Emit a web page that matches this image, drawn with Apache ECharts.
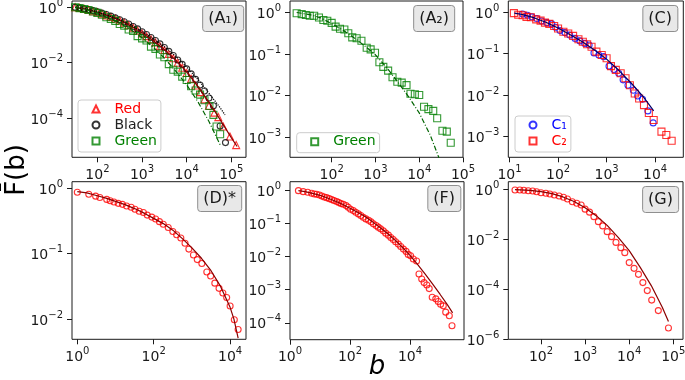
<!DOCTYPE html>
<html>
<head>
<meta charset="utf-8">
<script src="https://cdn.jsdelivr.net/npm/echarts@6/dist/echarts.min.js"></script>
<style>
  html, body { margin: 0; padding: 0; background: #fff; }
  #main { width: 685px; height: 380px; }
</style>
</head>
<body>
<div id="main"></div>
<script>
// values, stored as [log10 b, log10 F(b)]
const a1Red = [[1.5,0],[1.6,-0.02],[1.7,-0.05],[1.8,-0.09],[1.9,-0.14],[2.0,-0.18],[2.1,-0.23],[2.2,-0.29],[2.3,-0.35],[2.4,-0.41],[2.5,-0.48],[2.6,-0.56],[2.7,-0.65],[2.8,-0.74],[2.9,-0.84],[3.0,-0.94],[3.1,-1.04],[3.2,-1.15],[3.3,-1.27],[3.4,-1.4],[3.5,-1.54],[3.6,-1.68],[3.7,-1.84],[3.8,-2.0],[3.9,-2.18],[4.0,-2.37],[4.1,-2.58],[4.2,-2.82],[4.3,-3.06],[4.4,-3.32],[4.5,-3.55],[4.62,-3.8],[4.71,-3.96],[4.82,-4.3],[4.97,-4.66],[5.11,-4.97]];
const a1Black = [[1.5,0],[1.6,-0.02],[1.7,-0.05],[1.8,-0.08],[1.9,-0.12],[2.0,-0.16],[2.1,-0.21],[2.2,-0.26],[2.3,-0.32],[2.4,-0.38],[2.5,-0.45],[2.6,-0.52],[2.7,-0.6],[2.8,-0.69],[2.9,-0.78],[3.0,-0.88],[3.1,-0.98],[3.2,-1.09],[3.3,-1.2],[3.4,-1.32],[3.5,-1.45],[3.6,-1.59],[3.7,-1.74],[3.8,-1.9],[3.9,-2.06],[4.0,-2.22],[4.1,-2.4],[4.2,-2.6],[4.3,-2.8],[4.4,-3.02],[4.5,-3.27],[4.6,-3.55],[4.75,-4.28],[4.87,-4.88]];
const a1Green = [[1.5,0],[1.6,-0.03],[1.7,-0.06],[1.8,-0.1],[1.9,-0.15],[2.0,-0.2],[2.1,-0.27],[2.2,-0.36],[2.3,-0.42],[2.4,-0.49],[2.5,-0.6],[2.6,-0.66],[2.7,-0.8],[2.8,-0.85],[2.9,-1.04],[3.0,-1.12],[3.1,-1.2],[3.2,-1.42],[3.3,-1.5],[3.4,-1.7],[3.5,-1.8],[3.6,-2.05],[3.7,-2.25],[3.8,-2.32],[3.9,-2.5],[4.0,-2.62],[4.1,-2.85],[4.2,-3.0],[4.3,-3.15],[4.4,-3.35],[4.51,-3.56],[4.6,-3.88],[4.67,-4.3],[4.75,-4.58]];
const a1RedFit = [[1.5,0],[1.75,-0.07],[2.0,-0.18],[2.25,-0.31],[2.5,-0.47],[2.75,-0.68],[3.0,-0.92],[3.25,-1.2],[3.5,-1.52],[3.75,-1.9],[4.0,-2.33],[4.25,-2.85],[4.5,-3.42],[4.75,-4.05],[5.0,-4.7],[5.13,-5.02]];
const a1BlackFit = [[1.5,0],[1.75,-0.06],[2.0,-0.17],[2.25,-0.3],[2.5,-0.45],[2.75,-0.64],[3.0,-0.87],[3.25,-1.13],[3.5,-1.42],[3.75,-1.76],[4.0,-2.15],[4.25,-2.6],[4.5,-3.1],[4.75,-3.62],[4.86,-3.88]];
const a1GreenFit = [[1.5,0],[1.75,-0.08],[2.0,-0.21],[2.25,-0.38],[2.5,-0.57],[2.75,-0.81],[3.0,-1.1],[3.25,-1.44],[3.5,-1.83],[3.75,-2.29],[4.0,-2.8],[4.25,-3.4],[4.5,-4.12],[4.75,-4.96]];

const a2Green = [[1.2,-0.02],[1.315,-0.04],[1.41,-0.06],[1.5,-0.08],[1.6,-0.08],[1.71,-0.12],[1.81,-0.18],[1.9,-0.2],[2.0,-0.25],[2.09,-0.34],[2.19,-0.39],[2.29,-0.41],[2.38,-0.5],[2.47,-0.6],[2.57,-0.62],[2.68,-0.68],[2.8,-0.85],[2.89,-0.89],[2.99,-0.97],[3.09,-1.2],[3.18,-1.31],[3.29,-1.4],[3.39,-1.56],[3.5,-1.67],[3.6,-1.69],[3.71,-1.75],[3.8,-1.96],[3.9,-1.97],[4.0,-1.99],[4.11,-2.27],[4.21,-2.33],[4.32,-2.37],[4.41,-2.55],[4.53,-2.85],[4.63,-2.87],[4.72,-3.14]];
const a2GreenFit = [[1.2,0],[1.5,-0.05],[1.75,-0.13],[2.0,-0.27],[2.25,-0.42],[2.5,-0.6],[2.75,-0.8],[3.0,-1.02],[3.25,-1.32],[3.5,-1.66],[3.75,-2.02],[4.0,-2.42],[4.25,-2.95],[4.45,-3.5]];

const cOne = [[1.27,-0.04],[1.37,-0.07],[1.46,-0.11],[1.56,-0.15],[1.66,-0.21],[1.77,-0.25],[1.87,-0.28],[1.95,-0.36],[2.04,-0.44],[2.14,-0.49],[2.24,-0.55],[2.35,-0.63],[2.45,-0.69],[2.55,-0.75],[2.64,-0.79],[2.74,-0.98],[2.84,-1.03],[2.94,-1.07],[3.05,-1.3],[3.15,-1.38],[3.25,-1.47],[3.34,-1.63],[3.44,-1.76],[3.55,-1.88],[3.64,-2.02],[3.74,-2.1],[3.85,-2.38],[3.96,-2.67]];
const cTwo = [[1.09,-0.02],[1.18,-0.06],[1.27,-0.07],[1.35,-0.11],[1.44,-0.12],[1.55,-0.17],[1.64,-0.2],[1.73,-0.25],[1.82,-0.28],[1.92,-0.33],[2.0,-0.39],[2.11,-0.47],[2.21,-0.51],[2.31,-0.57],[2.42,-0.65],[2.51,-0.71],[2.6,-0.77],[2.69,-0.83],[2.79,-0.95],[2.9,-1.03],[3.0,-1.11],[3.09,-1.3],[3.19,-1.39],[3.29,-1.47],[3.39,-1.59],[3.48,-1.76],[3.58,-1.96],[3.67,-2.08],[3.77,-2.24],[3.87,-2.43],[3.97,-2.6],[4.13,-2.88],[4.23,-2.96],[4.34,-3.1]];
const cFit = [[1.1,-0.02],[1.25,-0.05],[1.5,-0.13],[1.75,-0.24],[2.0,-0.38],[2.25,-0.54],[2.5,-0.71],[2.75,-0.91],[3.0,-1.13],[3.25,-1.4],[3.5,-1.7],[3.75,-2.03],[3.97,-2.38]];

const dRed = [[0,-0.06],[0.3,-0.09],[0.48,-0.12],[0.59,-0.14],[0.77,-0.17],[0.86,-0.19],[0.96,-0.21],[1.07,-0.23],[1.18,-0.245],[1.29,-0.27],[1.41,-0.29],[1.51,-0.32],[1.62,-0.35],[1.73,-0.37],[1.83,-0.41],[1.95,-0.44],[2.05,-0.47],[2.15,-0.51],[2.25,-0.55],[2.38,-0.6],[2.5,-0.66],[2.6,-0.71],[2.71,-0.76],[2.82,-0.84],[2.92,-0.93],[3.04,-1.02],[3.14,-1.09],[3.26,-1.15],[3.39,-1.28],[3.49,-1.34],[3.6,-1.45],[3.71,-1.53],[3.81,-1.6],[3.91,-1.67],[4.0,-1.8],[4.11,-2.01],[4.21,-2.16]];
const dFit = [[0,-0.05],[0.25,-0.07],[0.5,-0.11],[0.75,-0.15],[1,-0.2],[1.25,-0.25],[1.5,-0.31],[1.75,-0.38],[2,-0.46],[2.25,-0.54],[2.5,-0.64],[2.75,-0.77],[3,-0.91],[3.25,-1.07],[3.5,-1.26],[3.75,-1.5],[4.0,-1.82],[4.1,-2.0],[4.21,-2.29]];

const fRed = [[0.28,-0.02],[0.44,-0.05],[0.59,-0.07],[0.72,-0.1],[0.81,-0.12],[0.89,-0.13],[0.98,-0.15],[1.06,-0.18],[1.14,-0.21],[1.22,-0.23],[1.31,-0.26],[1.39,-0.29],[1.47,-0.32],[1.56,-0.35],[1.63,-0.38],[1.7,-0.41],[1.78,-0.43],[1.87,-0.47],[1.94,-0.52],[2.02,-0.58],[2.11,-0.62],[2.19,-0.67],[2.28,-0.72],[2.36,-0.77],[2.44,-0.82],[2.53,-0.87],[2.62,-0.91],[2.7,-0.96],[2.78,-1.02],[2.87,-1.07],[2.94,-1.12],[3.02,-1.17],[3.11,-1.23],[3.19,-1.3],[3.28,-1.36],[3.36,-1.43],[3.44,-1.49],[3.52,-1.56],[3.61,-1.63],[3.69,-1.7],[3.78,-1.78],[3.87,-1.85],[3.94,-1.94],[4.02,-1.98],[4.11,-2.08],[4.22,-2.14],[4.3,-2.53],[4.39,-2.68],[4.47,-2.79],[4.56,-2.86],[4.64,-2.97],[4.74,-3.23],[4.86,-3.28],[4.94,-3.36],[5.02,-3.44],[5.11,-3.49],[5.19,-3.68],[5.31,-3.79],[5.4,-4.09]];
const fFit = [[0.28,-0.02],[0.5,-0.05],[0.75,-0.1],[1,-0.16],[1.25,-0.24],[1.5,-0.33],[1.75,-0.43],[2,-0.55],[2.25,-0.67],[2.5,-0.8],[2.75,-0.96],[3,-1.13],[3.25,-1.31],[3.5,-1.51],[3.75,-1.73],[4,-1.97],[4.25,-2.24],[4.5,-2.53],[4.75,-2.83],[5,-3.14],[5.25,-3.46],[5.42,-3.7]];

const gRed = [[1.41,-0.02],[1.52,-0.02],[1.61,-0.03],[1.71,-0.05],[1.81,-0.06],[1.9,-0.09],[2.0,-0.13],[2.11,-0.15],[2.2,-0.18],[2.3,-0.22],[2.41,-0.26],[2.51,-0.31],[2.6,-0.38],[2.71,-0.49],[2.81,-0.55],[2.91,-0.62],[3.0,-0.79],[3.1,-0.91],[3.2,-1.09],[3.3,-1.29],[3.4,-1.46],[3.5,-1.69],[3.6,-1.89],[3.7,-2.12],[3.81,-2.33],[3.9,-2.53],[4.0,-2.93],[4.11,-3.16],[4.21,-3.4],[4.31,-3.73],[4.41,-4.05],[4.51,-4.43],[4.66,-4.85],[4.89,-5.55]];
const gFit = [[1.41,-0.01],[1.75,-0.04],[2,-0.09],[2.25,-0.17],[2.5,-0.3],[2.75,-0.48],[3,-0.73],[3.25,-1.05],[3.5,-1.44],[3.75,-1.92],[4,-2.45],[4.25,-3.12],[4.5,-3.85],[4.75,-4.72],[4.89,-5.29]];

// tick values per panel
const a1XTicks = [1e2, 1e3, 1e4, 1e5];
const a1YTicks = [1, 1e-2, 1e-4];
const a2XTicks = [1e2, 1e3, 1e4, 1e5];
const a2YTicks = [1, 1e-1, 1e-2, 1e-3];
const cXTicks = [1e1, 1e2, 1e3, 1e4];
const cYTicks = [1, 1e-1, 1e-2, 1e-3];
const dXTicks = [1, 1e2, 1e4];
const dYTicks = [1, 1e-1, 1e-2];
const fXTicks = [1, 1e2, 1e4];
const fYTicks = [1, 1e-1, 1e-2, 1e-3, 1e-4];
const gXTicks = [1e2, 1e3, 1e4, 1e5];
const gYTicks = [1, 1e-2, 1e-4, 1e-6];

const FONT = 'DejaVu Sans';
const INK = '#1a1a1a';

// grid rectangles [left, top, width, height] and visible log10 ranges
const panels = [
  {rect: [72, 1, 174, 156.3], x: [1.43, 5.33], y: [-5.41, 0.227], xt: a1XTicks, yt: a1YTicks},
  {rect: [290, 1, 173, 156.3], x: [1.048, 5.0], y: [-3.49, 0.277], xt: a2XTicks, yt: a2YTicks},
  {rect: [508.3, 1, 175, 156.3], x: [0.975, 4.58], y: [-3.5, 0.273], xt: cXTicks, yt: cYTicks},
  {rect: [72, 181.7, 174, 157.6], x: [-0.139, 4.416], y: [-2.309, 0.101], xt: dXTicks, yt: dYTicks},
  {rect: [290, 181.7, 174, 158], x: [0, 5.8], y: [-4.51, 0.25], xt: fXTicks, yt: fYTicks},
  {rect: [508.3, 181.7, 174.7, 157.6], x: [1.258, 5.22], y: [-6, 0.31], xt: gXTicks, yt: gYTicks}
];

const toPts = arr => arr.map(p => [Math.pow(10, p[0]), Math.pow(10, p[1])]);

function powLabel(v) {
  const e = Math.log10(v);
  const n = Math.round(e);
  if (Math.abs(e - n) > 1e-6) return '';
  return '{b|10}{s|' + (n < 0 ? '\u2212' + (-n) : String(n)) + '}';
}

const RICH = {
  b: {fontFamily: FONT, fontSize: 14, color: INK, lineHeight: 18, verticalAlign: 'bottom'},
  s: {fontFamily: FONT, fontSize: 10, color: INK, lineHeight: 9, verticalAlign: 'top'}
};

function logAxis(i, ext, ticks, isX) {
  return {
    type: 'log', logBase: 10, gridIndex: i,
    min: Math.pow(10, ext[0]), max: Math.pow(10, ext[1]),
    axisLine: {show: false},
    axisTick: {show: true, length: 5, lineStyle: {color: INK, width: 1}, customValues: ticks},
    minorTick: {show: false},
    splitLine: {show: false},
    axisLabel: {customValues: ticks, formatter: powLabel, rich: RICH, margin: isX ? 7 : 9,
      color: INK, fontFamily: FONT, fontSize: 14, showMinLabel: true, showMaxLabel: true}
  };
}

function marks(name, i, pts, symbol, color, size) {
  return {
    type: 'scatter', name, xAxisIndex: i, yAxisIndex: i, data: toPts(pts),
    symbol, symbolSize: size || 6, z: 3,
    itemStyle: {color: 'rgba(0,0,0,0)', borderColor: color, borderWidth: 1.1}
  };
}

function fit(i, pts, color, type) {
  return {
    type: 'line', xAxisIndex: i, yAxisIndex: i, data: toPts(pts),
    symbol: 'none', showSymbol: false, smooth: false, z: 4, silent: true,
    lineStyle: {color, width: 1.2, type: type || 'solid'}
  };
}

function tag(text, right, top) {
  return {
    text, right, top, padding: [4, 6, 4, 6],
    backgroundColor: '#e8e8e8', borderColor: '#8f8f8f', borderWidth: 1, borderRadius: 3,
    textStyle: {fontFamily: FONT, fontSize: 16, fontWeight: 'normal', color: INK, lineHeight: 19}
  };
}

function legendBox(names, colors, left, top) {
  return {
    left, top, orient: 'vertical', selectedMode: false,
    itemWidth: 7, itemHeight: 7, itemGap: 0,
    padding: [1, 4, 3, 13.5],
    backgroundColor: 'rgba(255,255,255,0.8)', borderColor: '#cccccc', borderWidth: 1, borderRadius: 3,
    textStyle: {fontFamily: FONT, fontSize: 14, lineHeight: 16, padding: [0, 0, 0, 10]},
    data: names.map((n, k) => ({name: n, textStyle: {color: colors[k]}}))
  };
}

const RED = '#ff0000', GREEN = '#008000', BLACK = '#000000', BLUE = '#0000ff';
const FIT_RED = '#8b0000';

const option = {
  animation: false,
  backgroundColor: '#fff',
  grid: panels.map(p => ({
    left: p.rect[0], top: p.rect[1], width: p.rect[2], height: p.rect[3],
    show: true, borderColor: INK, borderWidth: 1, backgroundColor: 'transparent',
    containLabel: false, outerBoundsMode: 'none'
  })),
  xAxis: panels.map((p, i) => logAxis(i, p.x, p.xt, true)),
  yAxis: panels.map((p, i) => logAxis(i, p.y, p.yt, false)),
  title: [
    tag('(A\u2081)', 441, 5),
    tag('(A\u2082)', 230, 5),
    tag('(C)', 7, 5),
    tag('(D)*', 443, 185),
    tag('(F)', 224, 185),
    tag('(G)', 6, 186)
  ],
  legend: [
    legendBox(['Red', 'Black', 'Green'], [RED, '#222222', GREEN], 78, 100),
    legendBox(['Green'], [GREEN], 296.7, 132.7),
    legendBox(['C\u2081', 'C\u2082'], [BLUE, RED], 515, 116)
  ],
  series: [
    marks('Red', 0, a1Red, 'triangle', RED, 7),
    marks('Black', 0, a1Black, 'circle', BLACK, 6),
    marks('Green', 0, a1Green, 'rect', GREEN, 7),
    fit(0, a1RedFit, FIT_RED),
    fit(0, a1BlackFit, BLACK, 'dotted'),
    fit(0, a1GreenFit, '#006400', [5, 2, 1, 2]),

    marks('Green', 1, a2Green, 'rect', GREEN, 7),
    fit(1, a2GreenFit, '#006400', [5, 2, 1, 2]),

    marks('C\u2081', 2, cOne, 'circle', BLUE, 6),
    marks('C\u2082', 2, cTwo, 'rect', RED, 7),
    fit(2, cFit, '#000066'),

    marks('D', 3, dRed, 'circle', RED, 6),
    fit(3, dFit, FIT_RED),

    marks('F', 4, fRed, 'circle', RED, 6),
    fit(4, fFit, FIT_RED),

    marks('G', 5, gRed, 'circle', RED, 6),
    fit(5, gFit, FIT_RED)
  ],
  graphic: [
    {type: 'text', x: 17, y: 170, rotation: Math.PI / 2,
      style: {text: 'F\u0304(b)', font: '26px "DejaVu Sans"', fill: '#000', align: 'center', verticalAlign: 'middle'}},
    {type: 'text', x: 377, y: 367,
      style: {text: 'b', font: 'italic 26px "DejaVu Sans"', fill: '#000', align: 'center', verticalAlign: 'middle'}}
  ]
};

const chart = echarts.init(document.getElementById('main'), null, {renderer: 'canvas'});
chart.setOption(option);
</script>
</body>
</html>
